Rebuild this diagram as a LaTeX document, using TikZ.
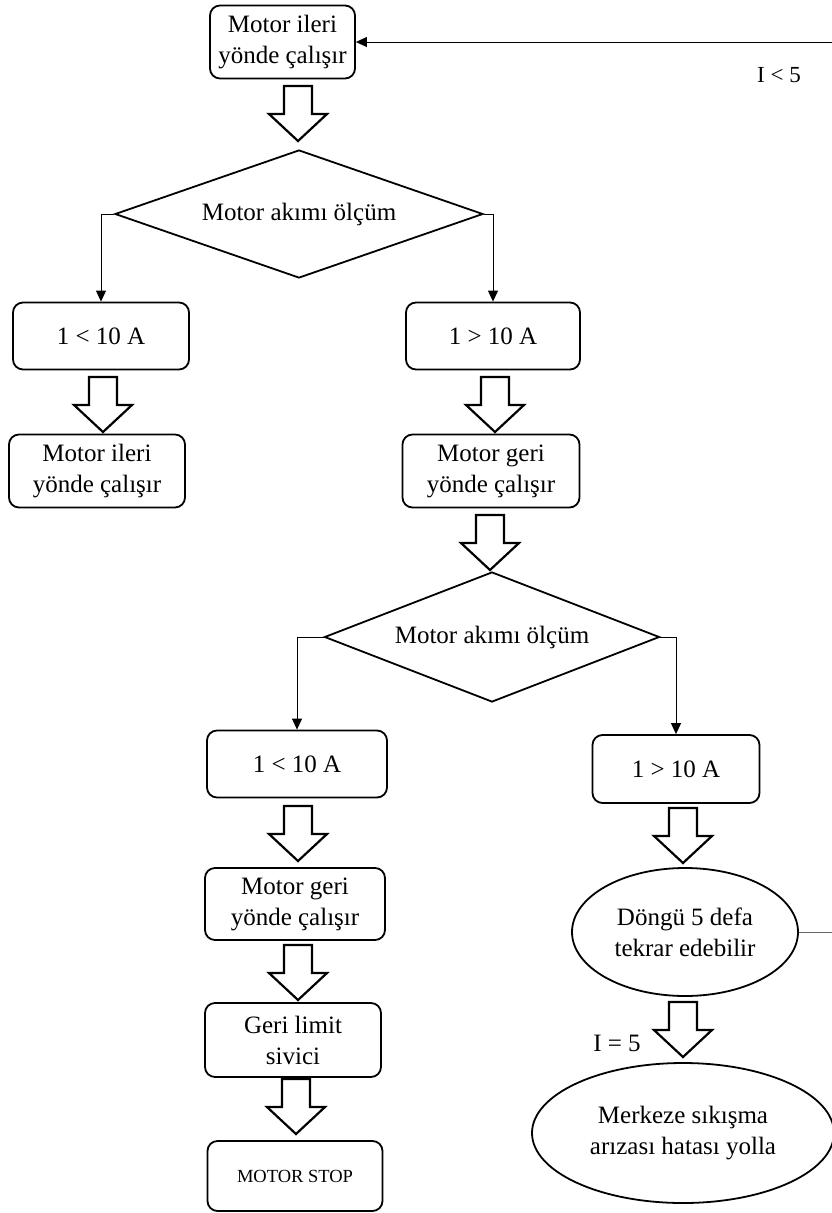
\documentclass[tikz,border=0pt]{standalone}
\usepackage{fontspec}
\setmainfont{Liberation Serif}
\usetikzlibrary{shapes.geometric,arrows.meta}
\begin{document}
\begin{tikzpicture}[x=1pt,y=-1pt,
  every node/.style={font=\fontsize{25}{31}\selectfont},
  box/.style={draw, line width=1.8pt, rounded corners=10pt, align=center, inner sep=0pt},
  dec/.style={draw, diamond, line width=1.8pt, inner sep=0pt, aspect=2.8},
  oval/.style={draw, ellipse, line width=1.8pt, align=center, inner sep=0pt},
  conn/.style={line width=1pt, -{Triangle[length=11pt,width=10pt]}},
  lbl/.style={inner sep=0pt},
  blockarrow/.pic={\draw[line width=2.2pt, line join=miter, fill=white] (-14,0) -- (14,0) -- (14,28) -- (29,28) -- (0,55) -- (-29,28) -- (-14,28) -- cycle;},
]
\path[use as bounding box, fill=white] (0,0) rectangle (832,1213);

\node[box, minimum width=145, minimum height=73] (top) at (282.5,42) {Motor ileri\\yönde çalışır};
\node[dec, minimum width=368, minimum height=128] (d1) at (299,214) {Motor akımı ölçüm};
\node[box, minimum width=176, minimum height=67] (c1l) at (101,336) {1 < 10 A};
\node[box, minimum width=174, minimum height=67] (c1r) at (493,336) {1 > 10 A};
\node[box, minimum width=176, minimum height=73] (m1l) at (97,471) {Motor ileri\\yönde çalışır};
\node[box, minimum width=177, minimum height=73] (m1r) at (491,471) {Motor geri\\yönde çalışır};
\node[dec, minimum width=335, minimum height=130] (d2) at (492,637) {Motor akımı ölçüm};
\node[box, minimum width=180, minimum height=67] (c2l) at (297,764) {1 < 10 A};
\node[box, minimum width=167, minimum height=68] (c2r) at (676,769) {1 > 10 A};
\node[box, minimum width=180, minimum height=72] (m2l) at (295,904) {Motor geri\\yönde çalışır};
\node[box, minimum width=176, minimum height=74] (gl) at (293,1040) {Geri limit\\sivici};
\node[box, minimum width=175, minimum height=70] (ms) at (295,1176) {\fontsize{18.5}{22}\selectfont MOTOR STOP};
\node[oval, minimum width=226, minimum height=128] (e1) at (685,932) {Döngü 5 defa\\tekrar edebilir};
\node[oval, minimum width=302, minimum height=140] (e2) at (683,1133) {Merkeze sıkışma\\arızası hatası yolla};

\node[lbl, font=\fontsize{23}{26}\selectfont] (l1) at (779,75) {I < 5};
\node[lbl, font=\fontsize{25}{28}\selectfont] (l2) at (617,1043) {I = 5};

\coordinate (eT) at (832,42);
\coordinate (eR) at (832,932);
\draw[conn] (eT) -- (top.east);
\draw[line width=1pt, black!60] (e1.east) -- (eR);
\draw[conn] (d1.west) -| (c1l.north);
\draw[conn] (d1.east) -| (c1r.north);
\draw[conn] (d2.west) -| (c2l.north);
\draw[conn] (d2.east) -| (c2r.north);

\pic at (298,86) {blockarrow};
\pic at (103,377) {blockarrow};
\pic at (495,377) {blockarrow};
\pic at (490,515) {blockarrow};
\pic at (298,806) {blockarrow};
\pic at (298,945) {blockarrow};
\pic at (296,1079) {blockarrow};
\pic at (683,808) {blockarrow};
\pic at (683,1002) {blockarrow};
\end{tikzpicture}
\end{document}
